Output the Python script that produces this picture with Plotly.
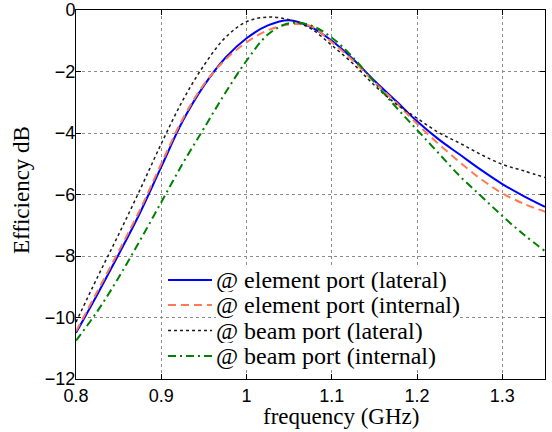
import plotly.graph_objects as go

freq = [0.80, 0.825, 0.85, 0.875, 0.90, 0.925, 0.95, 0.975, 1.00, 1.025, 1.05, 1.075,
        1.10, 1.125, 1.15, 1.175, 1.20, 1.225, 1.25, 1.275, 1.30, 1.325, 1.35]

elem_lateral = [-10.5, -9.25, -7.95, -6.6, -5.1, -3.62, -2.46, -1.56, -0.92, -0.5, -0.33, -0.55,
                -1.0, -1.6, -2.3, -2.95, -3.62, -4.2, -4.7, -5.2, -5.66, -6.05, -6.4]
elem_internal = [-10.45, -9.15, -7.85, -6.5, -5.0, -3.55, -2.42, -1.62, -1.05, -0.66, -0.47, -0.52,
                 -1.05, -1.65, -2.35, -3.0, -3.7, -4.35, -4.95, -5.5, -5.96, -6.3, -6.56]
beam_lateral = [-10.15, -8.7, -7.3, -5.85, -4.35, -2.95, -1.8, -0.9, -0.38, -0.23, -0.32, -0.6,
                -1.15, -1.75, -2.45, -3.05, -3.52, -3.98, -4.33, -4.7, -5.02, -5.23, -5.45]
beam_internal = [-10.75, -9.8, -8.7, -7.5, -6.25, -5.0, -3.85, -2.7, -1.65, -0.8, -0.43, -0.5,
                 -0.9, -1.55, -2.35, -3.15, -3.9, -4.65, -5.4, -6.05, -6.7, -7.3, -7.84]

names = ["@ element port (lateral)", "@ element port (internal)",
         "@ beam port (lateral)", "@ beam port (internal)"]
series = [elem_lateral, elem_internal, beam_lateral, beam_internal]
colors = ["#0000FF", "#FF7A50", "#1a1a1a", "#008000"]
dashes = ["solid", "8px,5px", "dot", "8px,4px,2px,4px"]
widths = [2, 2, 1.5, 2]

fig = go.Figure()
for n, s, c, d, w in zip(names, series, colors, dashes, widths):
    fig.add_trace(go.Scatter(x=freq, y=s, mode="lines", name=n,
                             line=dict(color=c, width=w, dash=d, shape="spline", smoothing=1.0)))

# plot area in pixels: x 76..545, y 10..379
L, R, T, B = 76, 545, 10, 379
def px(xp):
    return (xp - L) / (R - L)
def py(yp):
    return (B - yp) / (B - T)

SERIF = "Liberation Serif"
shapes = []
annotations = []
entry_y = [280, 305, 330.5, 356]
for n, c, d, w, ey in zip(names, colors, dashes, widths, entry_y):
    shapes.append(dict(type="line", xref="paper", yref="paper",
                       x0=px(168), x1=px(212), y0=py(ey), y1=py(ey),
                       line=dict(color=c, width=w, dash=d), layer="above"))
    annotations.append(dict(text=n, xref="paper", yref="paper", x=px(216), y=py(ey),
                            xanchor="left", yanchor="middle", showarrow=False,
                            bgcolor="white", borderpad=0, borderwidth=0,
                            font=dict(family=SERIF, size=24, color="black")))

annotations.append(dict(text="frequency (GHz)", xref="paper", yref="paper", x=px(341), y=py(416),
                        xanchor="center", yanchor="middle", showarrow=False,
                        font=dict(family=SERIF, size=23, color="black")))
annotations.append(dict(text="Efficiency dB", xref="paper", yref="paper", x=px(21), y=py(190),
                        xanchor="center", yanchor="middle", showarrow=False, textangle=-90,
                        font=dict(family=SERIF, size=23, color="black")))

fig.update_layout(width=552, height=432, margin=dict(l=L, r=552 - R, t=T, b=432 - B, pad=0),
                  paper_bgcolor="white", plot_bgcolor="white", showlegend=False,
                  shapes=shapes, annotations=annotations)

axis_common = dict(ticks="inside", ticklen=5, tickcolor="black", tickwidth=1,
                   showline=True, linecolor="black", linewidth=1, mirror="ticks",
                   showgrid=True, gridcolor="#8c8c8c", griddash="dot", gridwidth=1,
                   zeroline=False, automargin=False,
                   tickfont=dict(family="Liberation Sans", size=18, color="black"))
fig.update_xaxes(range=[0.8, 1.35], tick0=0.8, dtick=0.1, ticklabelstandoff=0, **axis_common)
fig.update_yaxes(range=[-12, 0], tick0=0, dtick=2, ticklabelstandoff=-4, **axis_common)

fig.write_html("out.html", config={"displayModeBar": False},
               post_script="document.body.style.margin='0';document.body.style.padding='0';")
